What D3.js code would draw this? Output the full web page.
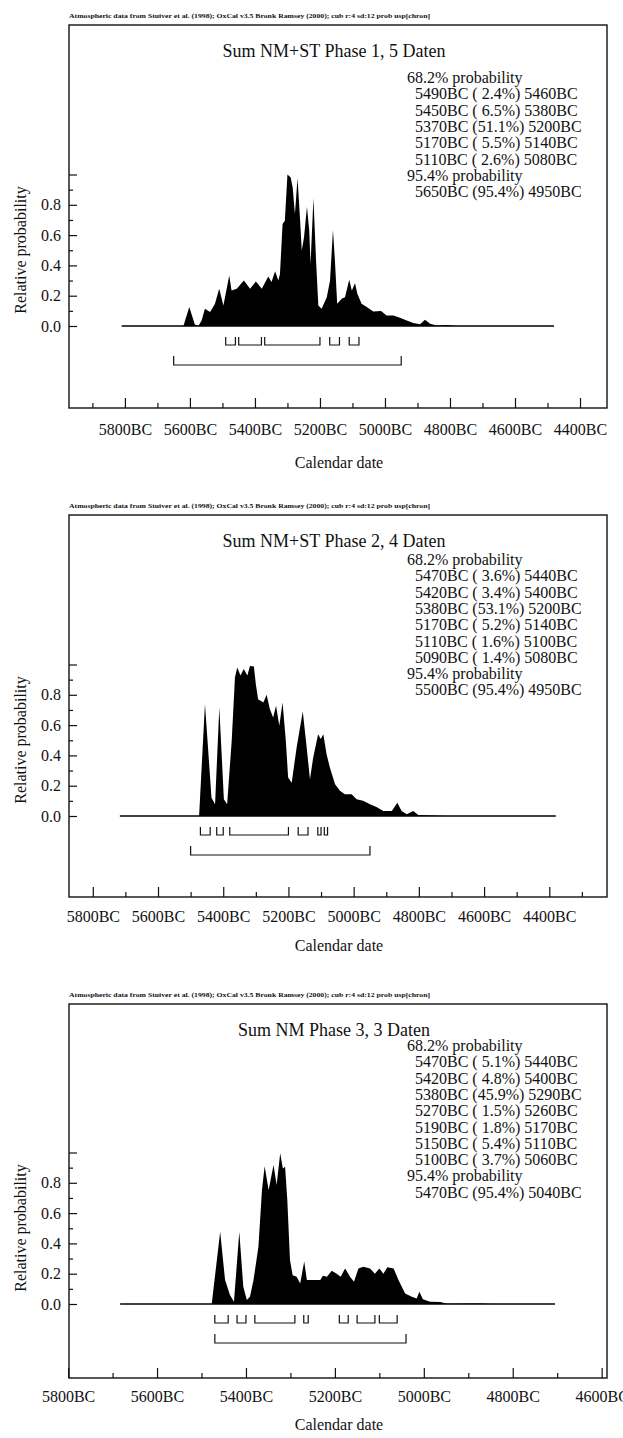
<!DOCTYPE html>
<html>
<head>
<meta charset="utf-8">
<script src="https://d3js.org/d3.v7.min.js"></script>
<style>
  body { margin: 0; background: #fff; }
  svg { display: block; }
  text { font-family: "Liberation Serif", "Times New Roman", serif; fill: #111; }
</style>
</head>
<body>
<svg id="chart" width="623" height="1438"></svg>
<script>
// header line above each plot
const headerText = "Atmospheric data from Stuiver et al. (1998); OxCal v3.5 Bronk Ramsey (2000); cub r:4 sd:12 prob usp[chron]";

const titles = [
  "Sum NM+ST Phase 1, 5 Daten",
  "Sum NM+ST Phase 2, 4 Daten",
  "Sum NM Phase 3, 3 Daten"
];

// 68.2% ranges [from, to] (BC) and their share
const ranges68_1 = [[5490, 5460], [5450, 5380], [5370, 5200], [5170, 5140], [5110, 5080]];
const pct68_1 = [2.4, 6.5, 51.1, 5.5, 2.6];
const ranges68_2 = [[5470, 5440], [5420, 5400], [5380, 5200], [5170, 5140], [5110, 5100], [5090, 5080]];
const pct68_2 = [3.6, 3.4, 53.1, 5.2, 1.6, 1.4];
const ranges68_3 = [[5470, 5440], [5420, 5400], [5380, 5290], [5270, 5260], [5190, 5170], [5150, 5110], [5100, 5060]];
const pct68_3 = [5.1, 4.8, 45.9, 1.5, 1.8, 5.4, 3.7];

// 95.4% ranges
const ranges95_1 = [[5650, 4950]];
const ranges95_2 = [[5500, 4950]];
const ranges95_3 = [[5470, 5040]];

// x axis: visible year span of each frame, major ticks
const xDomains = [[5972, 4317], [5873, 4223], [5798, 4588]];
const xMajor = [
  [5800, 5600, 5400, 5200, 5000, 4800, 4600, 4400],
  [5800, 5600, 5400, 5200, 5000, 4800, 4600, 4400],
  [5800, 5600, 5400, 5200, 5000, 4800, 4600]
];
const xMinor = [
  [5900, 5700, 5500, 5300, 5100, 4900, 4700, 4500],
  [5700, 5500, 5300, 5100, 4900, 4700, 4500, 4300],
  [5700, 5500, 5300, 5100, 4900, 4700]
];
const yMajor = [0, 0.2, 0.4, 0.6, 0.8, 1.0];
const yMinor = [0.1, 0.3, 0.5, 0.7, 0.9];

// summed probability curves, [year BC, relative probability]
const curve1 = [
  [5810, 0], [5620, 0], [5602, 0.125], [5585, 0.01], [5574, 0], [5564, 0.037], [5554, 0.114],
  [5538, 0.092], [5523, 0.147], [5510, 0.246], [5497, 0.136], [5479, 0.333], [5472, 0.235],
  [5456, 0.246], [5434, 0.30], [5415, 0.246], [5397, 0.294], [5379, 0.246], [5359, 0.327],
  [5349, 0.29], [5338, 0.362], [5328, 0.30], [5323, 0.344], [5315, 0.673], [5308, 0.695],
  [5300, 1.0], [5290, 0.98], [5284, 0.914], [5277, 0.739], [5269, 0.976], [5261, 0.695],
  [5256, 0.498], [5249, 0.586], [5240, 0.787], [5233, 0.63], [5229, 0.41], [5220, 0.844],
  [5212, 0.432], [5205, 0.136], [5195, 0.114], [5179, 0.19], [5169, 0.30], [5160, 0.634],
  [5154, 0.432], [5147, 0.147], [5133, 0.18], [5123, 0.19], [5110, 0.305], [5102, 0.235],
  [5092, 0.283], [5085, 0.213], [5072, 0.147], [5056, 0.125], [5036, 0.096], [5012, 0.099],
  [4995, 0.07], [4974, 0.07], [4954, 0.055], [4933, 0.037], [4913, 0.02], [4892, 0.011],
  [4877, 0.042], [4861, 0.015], [4841, 0.004], [4810, 0.006], [4780, 0], [4480, 0]
];
const curve2 = [
  [5717, 0], [5474, 0], [5456, 0.74], [5436, 0.12], [5425, 0.077], [5412, 0.717], [5398, 0.11],
  [5388, 0.077], [5374, 0.497], [5364, 0.916], [5357, 0.98], [5347, 0.927], [5337, 0.97],
  [5326, 0.927], [5318, 0.99], [5306, 0.987], [5300, 0.87], [5293, 0.77], [5277, 0.75],
  [5267, 0.80], [5257, 0.706], [5247, 0.65], [5238, 0.728], [5228, 0.596], [5218, 0.75],
  [5208, 0.497], [5201, 0.254], [5190, 0.22], [5175, 0.45], [5156, 0.69], [5144, 0.45],
  [5134, 0.243], [5124, 0.386], [5109, 0.54], [5101, 0.508], [5093, 0.54], [5083, 0.408],
  [5073, 0.32], [5057, 0.21], [5042, 0.166], [5027, 0.143], [5006, 0.143], [4991, 0.11],
  [4971, 0.1], [4950, 0.077], [4930, 0.06], [4909, 0.033], [4883, 0.033], [4866, 0.088],
  [4853, 0.033], [4837, 0.011], [4817, 0.033], [4802, 0.007], [4756, 0.004], [4720, 0], [4380, 0]
];
const curve3 = [
  [5683, 0], [5477, 0], [5458, 0.477], [5447, 0.158], [5436, 0.06], [5427, 0.015], [5415, 0.477],
  [5406, 0.114], [5398, 0.026], [5391, 0.048], [5383, 0.158], [5372, 0.378], [5364, 0.752],
  [5358, 0.91], [5349, 0.752], [5338, 0.917], [5331, 0.785], [5323, 0.995], [5317, 0.895],
  [5312, 0.906], [5307, 0.686], [5301, 0.29], [5295, 0.19], [5286, 0.18], [5278, 0.136],
  [5269, 0.28], [5263, 0.158], [5248, 0.158], [5233, 0.158], [5227, 0.187], [5218, 0.18],
  [5207, 0.22], [5196, 0.2], [5187, 0.18], [5177, 0.235], [5166, 0.18], [5157, 0.147],
  [5147, 0.235], [5136, 0.246], [5121, 0.235], [5110, 0.2], [5100, 0.235], [5091, 0.2],
  [5082, 0.242], [5068, 0.235], [5057, 0.158], [5042, 0.07], [5027, 0.048], [5016, 0.037],
  [5010, 0.081], [5002, 0.031], [4986, 0.015], [4963, 0.013], [4948, 0.002], [4873, 0.004],
  [4850, 0], [4705, 0]
];

// frame layout per plot (pixels)
const panels = [
  { title: titles[0], r68: ranges68_1, p68: pct68_1, r95: ranges95_1, curve: curve1,
    top: 25, zero: 326, bottom: 408, legendY: 58, tickPad: 16, xLabel: 60 },
  { title: titles[1], r68: ranges68_2, p68: pct68_2, r95: ranges95_2, curve: curve2,
    top: 515, zero: 816, bottom: 897, legendY: 50, tickPad: 14, xLabel: 54 },
  { title: titles[2], r68: ranges68_3, p68: pct68_3, r95: ranges95_3, curve: curve3,
    top: 1004, zero: 1304, bottom: 1378, legendY: 47, tickPad: 13, xLabel: 52 }
];

const svg = d3.select("#chart");
const left = 69, right = 607;

function fmtRange(r, p) {
  const s = (p < 10 ? " " : "") + p.toFixed(1);
  return r[0] + "BC (" + s + "%) " + r[1] + "BC";
}

panels.forEach((p, i) => {
  const T = p.top;
  const g = svg.append("g");

  const x = d3.scaleLinear().domain(xDomains[i]).range([left, right]);
  const y = d3.scaleLinear().domain([0, 1]).range([p.zero, p.zero - 151.5]);

  g.append("text")
    .attr("x", 69).attr("y", T - 7)
    .attr("textLength", 361).attr("lengthAdjust", "spacingAndGlyphs")
    .style("font-size", "6.5px").style("font-weight", "bold")
    .text(headerText);

  g.append("rect")
    .attr("x", left).attr("y", T)
    .attr("width", right - left).attr("height", p.bottom - T)
    .attr("fill", "none").attr("stroke", "#111").attr("stroke-width", 1.4);

  g.append("text")
    .attr("x", 334).attr("y", T + 32)
    .attr("text-anchor", "middle")
    .style("font-size", "18px")
    .text(p.title);

  // legend
  const lines = [{ t: "68.2% probability", ind: 0 }]
    .concat(p.r68.map((r, k) => ({ t: fmtRange(r, p.p68[k]), ind: 8 })))
    .concat([{ t: "95.4% probability", ind: 0 }])
    .concat(p.r95.map(r => ({ t: fmtRange(r, 95.4), ind: 8 })));
  g.append("g").selectAll("text").data(lines).join("text")
    .attr("x", d => 407 + d.ind)
    .attr("y", (d, k) => T + p.legendY + k * 16.3)
    .style("font-size", "16px")
    .text(d => d.t);

  // curve
  const area = d3.area()
    .x(d => x(d[0]))
    .y0(y(0))
    .y1(d => y(d[1]));
  g.append("path").datum(p.curve)
    .attr("d", area)
    .attr("fill", "#000");
  g.append("line")
    .attr("x1", x(p.curve[0][0])).attr("x2", x(p.curve[p.curve.length - 1][0]))
    .attr("y1", y(0)).attr("y2", y(0))
    .attr("stroke", "#000").attr("stroke-width", 1.4);

  // range brackets
  const bracket = (r, y1, y2) => {
    const a = x(r[0]), b = x(r[1]);
    return `M${a},${y1}V${y2}H${b}V${y1}`;
  };
  g.append("g").selectAll("path").data(p.r68).join("path")
    .attr("d", r => bracket(r, y(0) + 11, y(0) + 19))
    .attr("fill", "none").attr("stroke", "#111").attr("stroke-width", 1.2);
  g.append("g").selectAll("path").data(p.r95).join("path")
    .attr("d", r => bracket(r, y(0) + 30, y(0) + 39))
    .attr("fill", "none").attr("stroke", "#111").attr("stroke-width", 1.2);

  // x axis (ticks inside the frame)
  const xa = g.append("g").attr("transform", `translate(0,${p.bottom})`)
    .call(d3.axisBottom(x).tickValues(xMajor[i]).tickSize(-10).tickPadding(p.tickPad)
      .tickFormat(d => d + "BC"));
  const xm = g.append("g").attr("transform", `translate(0,${p.bottom})`)
    .call(d3.axisBottom(x).tickValues(xMinor[i]).tickSize(-5).tickFormat(""));

  // y axis
  const ya = g.append("g").attr("transform", `translate(${left},0)`)
    .call(d3.axisLeft(y).tickValues(yMajor).tickSize(-8).tickPadding(8)
      .tickFormat(d => d < 0.95 ? d3.format(".1f")(d) : ""));
  const ym = g.append("g").attr("transform", `translate(${left},0)`)
    .call(d3.axisLeft(y).tickValues(yMinor).tickSize(-4).tickFormat(""));

  [xa, xm, ya, ym].forEach(a => {
    a.select(".domain").remove();
    a.selectAll("line").attr("stroke", "#111").attr("stroke-width", 1.2);
    a.selectAll("text")
      .style("font-family", "'Liberation Serif', 'Times New Roman', serif")
      .style("font-size", "16px").attr("fill", "#111");
  });

  g.append("text")
    .attr("x", 339).attr("y", p.bottom + p.xLabel)
    .attr("text-anchor", "middle")
    .style("font-size", "16px")
    .text("Calendar date");

  g.append("text")
    .attr("transform", `translate(26,${p.zero - 76}) rotate(-90)`)
    .attr("text-anchor", "middle")
    .style("font-size", "16px")
    .text("Relative probability");
});
</script>
</body>
</html>
